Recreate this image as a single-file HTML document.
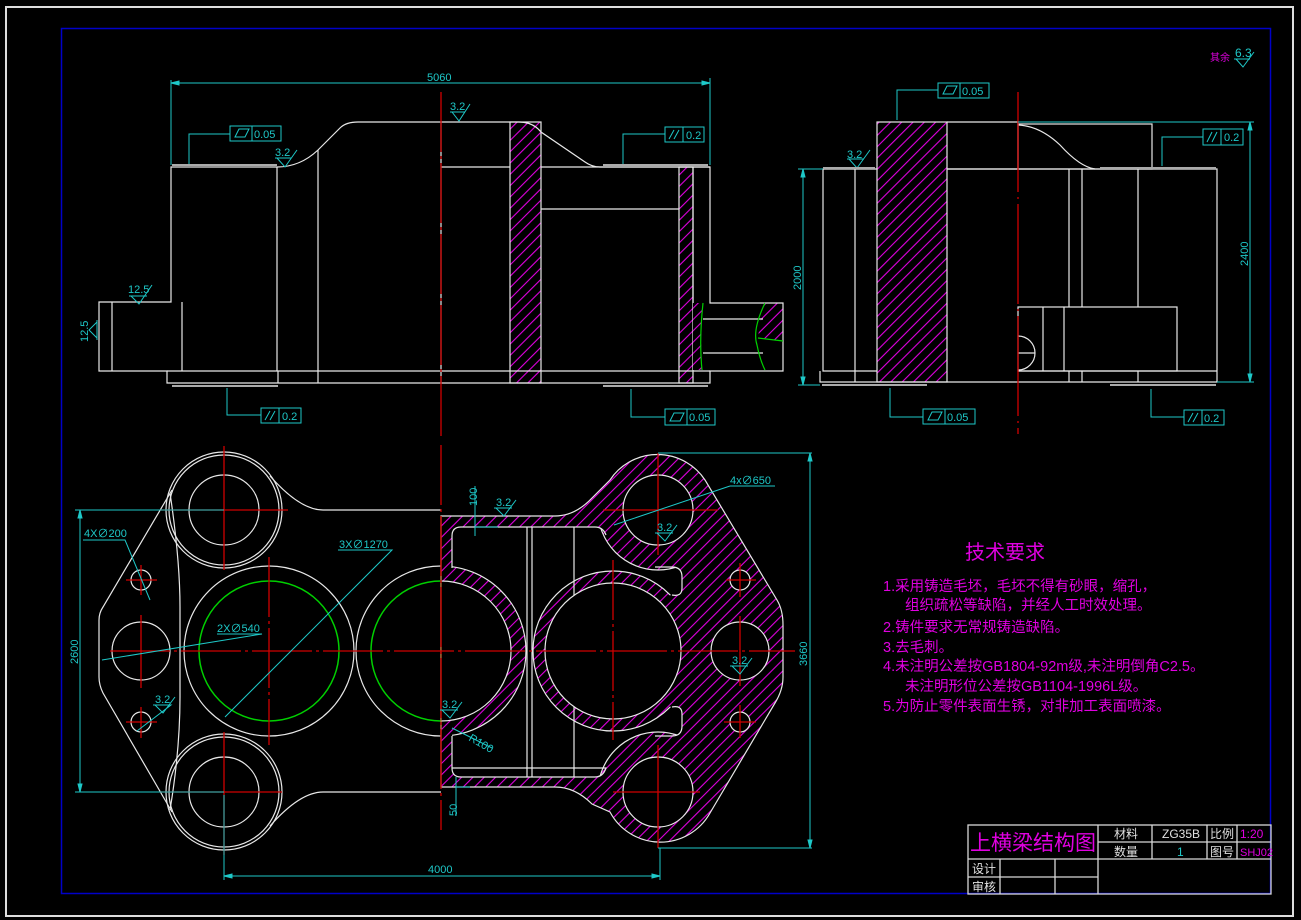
<!DOCTYPE html>
<html><head><meta charset="utf-8"><style>
html,body{margin:0;padding:0;background:#000;}
svg{display:block;}
text{font-family:"Liberation Sans","Noto Sans CJK SC",sans-serif;}
</style></head><body>
<svg width="1301" height="920" viewBox="0 0 1301 920" xmlns="http://www.w3.org/2000/svg">
<defs>
<pattern id="h" patternUnits="userSpaceOnUse" width="8" height="8" patternTransform="rotate(-45)">
<rect width="8" height="8" fill="#000"/><line x1="0" y1="4" x2="8" y2="4" stroke="#e000e0" stroke-width="1.1"/>
</pattern>
<clipPath id="rh"><rect x="441" y="400" width="400" height="500"/></clipPath>
<clipPath id="lh"><rect x="60" y="400" width="381" height="500"/></clipPath>
<clipPath id="cav"><path d="M452,536 Q452,527 461,527 H595 Q603,527 606,535 Q620,565 655,567 H672 Q682,567 682,577 V588 Q682,597 672,595 L640,600 L640,702 L672,707 Q682,705 682,714 V726 Q682,736 672,736 H655 Q620,738 606,768 Q603,777 595,777 H461 Q452,777 452,768 Z"/></clipPath>
<mask id="cm"><rect x="0" y="0" width="1301" height="920" fill="#000"/>
<path d="M452,536 Q452,527 461,527 H595 Q603,527 606,535 Q620,565 655,567 H672 Q682,567 682,577 V588 Q682,597 672,595 L640,600 L640,702 L672,707 Q682,705 682,714 V726 Q682,736 672,736 H655 Q620,738 606,768 Q603,777 595,777 H461 Q452,777 452,768 Z" fill="#fff"/>
<circle cx="658" cy="510" r="60" fill="#000"/><circle cx="658" cy="792" r="60" fill="#000"/>
<circle cx="613" cy="651" r="80" fill="#000"/><circle cx="441" cy="651" r="85" fill="#000"/>
</mask>
</defs>

<!-- frames -->
<rect x="6" y="7" width="1287" height="909" fill="none" stroke="#ddd" stroke-width="2"/>
<rect x="61.5" y="28.5" width="1209" height="865" fill="none" stroke="#0000c8" stroke-width="1.5"/>

<!-- ================= FRONT VIEW ================= -->
<g fill="none" stroke="#e8e8e8" stroke-width="1.2">
<rect x="510" y="122" width="31" height="261" fill="url(#h)"/>
<rect x="679" y="167" width="14" height="216" fill="url(#h)"/>
<path d="M693,303 H703 Q700,340 702,370 H693 Z" fill="url(#h)" stroke="none"/>
<path d="M765,303 H783 V341 L758,338 Q760,320 765,303 Z" fill="url(#h)" stroke="none"/>
<path d="M171,167 H277 Q300,167 318,150 L340,128 Q346,122 358,122 H519 Q533,122 541,132 L585,162 Q592,167 600,167 H710 V303 H783 V371 H710 V383 H167 V371 H99 V302 H171 Z"/>
<line x1="277" y1="167" x2="277" y2="371"/>
<line x1="318" y1="150" x2="318" y2="383"/>
<line x1="441" y1="122" x2="441" y2="383"/>
<line x1="441" y1="167" x2="510" y2="167"/>
<line x1="541" y1="167" x2="710" y2="167"/>
<line x1="541" y1="209" x2="679" y2="209"/>
<line x1="693" y1="167" x2="693" y2="303"/>
<line x1="167" y1="371" x2="710" y2="371"/>
<line x1="112" y1="302" x2="112" y2="371"/>
<line x1="182" y1="302" x2="182" y2="371"/>
<line x1="703" y1="319" x2="763" y2="319"/>
<line x1="703" y1="353" x2="763" y2="353"/>
<line x1="278" y1="371" x2="278" y2="383"/>
<line x1="172" y1="386" x2="278" y2="386" stroke="#aaa" stroke-width="2"/>
<line x1="603" y1="386" x2="708" y2="386" stroke="#aaa" stroke-width="2"/>
<line x1="172" y1="165" x2="277" y2="165" stroke="#aaa" stroke-width="2"/>
<line x1="603" y1="165" x2="708" y2="165" stroke="#aaa" stroke-width="2"/>
</g>
<path d="M703,303 Q699,340 702,370 M765,303 Q752,330 757,345 Q760,360 765,370 M758,338 L783,341" fill="none" stroke="#00d000" stroke-width="1.2"/>
<line x1="441" y1="92" x2="441" y2="440" stroke="#d00000" stroke-width="1.3" stroke-dasharray="60,4,3,4"/>

<!-- front view annotations -->
<g stroke="#1ec8c8" fill="none" stroke-width="1">
<line x1="171" y1="83" x2="710" y2="83"/>
<line x1="171" y1="80" x2="171" y2="165"/><line x1="710" y1="78" x2="710" y2="165"/>
<path d="M171,83 l8,-2 v4 z M710,83 l-8,-2 v4 z" fill="#1ec8c8"/>
<rect x="230" y="126" width="51" height="15"/><line x1="252" y1="126" x2="252" y2="141"/>
<path d="M235,137 l4,-8 h10 l-4,8 z"/>
<path d="M230,134 H189 V164"/>
<rect x="665" y="127" width="39" height="15"/><line x1="683" y1="127" x2="683" y2="142"/>
<path d="M669,139 l5,-9 M674,139 l5,-9"/>
<path d="M665,134 H623 V164"/>
<rect x="261" y="408" width="40" height="15"/><line x1="279" y1="408" x2="279" y2="423"/>
<path d="M265,420 l5,-9 M270,420 l5,-9"/>
<path d="M227,388 V415 H261"/>
<rect x="665" y="409" width="50" height="16"/><line x1="687" y1="409" x2="687" y2="425"/>
<path d="M670,421 l4,-8 h10 l-4,8 z"/>
<path d="M631,389 V417 H665"/>
<!-- roughness -->
<path d="M452,112 L459,121 L470,104 M450,112 H465"/>
<path d="M277,158 L285,167 L297,150 M275,158 H291"/>
<path d="M131,296 L139,304 L152,285 M129,296 H147"/>
<path d="M97,322 L89,330 L97,338 M97,320 V340"/>
<path d="M849,159 L857,168 L870,150 M847,159 H864"/>
</g>
<g fill="#1ec8c8" font-size="11">
<text x="427" y="81">5060</text>
<text x="450" y="110">3.2</text>
<text x="275" y="156">3.2</text>
<text x="128" y="293">12.5</text>
<text transform="translate(88,342) rotate(-90)">12.5</text>
<text x="254" y="138" font-size="11">0.05</text>
<text x="686" y="139">0.2</text>
<text x="282" y="420">0.2</text>
<text x="689" y="421">0.05</text>
<text x="847" y="158">3.2</text>
</g>

<!-- ================= SIDE VIEW ================= -->
<g fill="none" stroke="#e8e8e8" stroke-width="1.2">
<rect x="877" y="122" width="70" height="260" fill="url(#h)"/>
<path d="M947,122 H1018 V169 H947"/>
<rect x="1018" y="124" width="134" height="45"/>
<path d="M1018,125 Q1040,126 1060,145 Q1080,167 1095,169" />
<path d="M947,169 H1217 V382 H947"/>
<line x1="1069" y1="169" x2="1069" y2="307"/><line x1="1082" y1="169" x2="1082" y2="307"/><line x1="1138" y1="169" x2="1138" y2="307"/>
<rect x="1018" y="307" width="159" height="64"/>
<line x1="1043" y1="307" x2="1043" y2="371"/><line x1="1064" y1="307" x2="1064" y2="371"/>
<line x1="1018" y1="371" x2="1217" y2="371"/>
<line x1="1069" y1="371" x2="1069" y2="382"/><line x1="1082" y1="371" x2="1082" y2="382"/><line x1="1138" y1="371" x2="1138" y2="382"/>
<path d="M1018,336 A17,17 0 0 1 1018,370 M1018,353 H1035"/>
<path d="M877,169 H823 V371 H877 M855,169 V382 M820,371 V382 H947"/>
<line x1="822" y1="385" x2="927" y2="385" stroke="#aaa" stroke-width="2"/>
<line x1="1110" y1="385" x2="1216" y2="385" stroke="#aaa" stroke-width="2"/>
<line x1="823" y1="168" x2="875" y2="168" stroke="#aaa" stroke-width="2"/>
<line x1="1100" y1="168" x2="1216" y2="168" stroke="#aaa" stroke-width="2"/>
</g>
<line x1="1018" y1="92" x2="1018" y2="434" stroke="#d00000" stroke-width="1.3" stroke-dasharray="100,5,2,5"/>
<g stroke="#1ec8c8" fill="none" stroke-width="1">
<path d="M803,169 V385 M798,169 H823 M798,385 H820"/>
<path d="M803,169 l-2,8 h4 z M803,385 l-2,-8 h4 z" fill="#1ec8c8"/>
<path d="M1250,122 V382 M1018,122 H1254 M1217,382 H1254"/>
<path d="M1250,122 l-2,8 h4 z M1250,382 l-2,-8 h4 z" fill="#1ec8c8"/>
<rect x="938" y="83" width="51" height="15"/><line x1="960" y1="83" x2="960" y2="98"/>
<path d="M943,94 l4,-8 h10 l-4,8 z"/><path d="M938,90 H897 V120"/>
<rect x="1203" y="129" width="40" height="16"/><line x1="1221" y1="129" x2="1221" y2="145"/>
<path d="M1207,142 l5,-10 M1212,142 l5,-10"/><path d="M1203,137 H1162 V166"/>
<rect x="923" y="409" width="52" height="15"/><line x1="945" y1="409" x2="945" y2="424"/>
<path d="M928,420 l4,-8 h10 l-4,8 z"/><path d="M890,388 V417 H923"/>
<rect x="1184" y="410" width="40" height="15"/><line x1="1202" y1="410" x2="1202" y2="425"/>
<path d="M1188,422 l5,-9 M1193,422 l5,-9"/><path d="M1151,389 V417 H1184"/>
</g>
<g fill="#1ec8c8" font-size="11">
<text transform="translate(801,290) rotate(-90)">2000</text>
<text transform="translate(1248,266) rotate(-90)">2400</text>
<text x="962" y="95">0.05</text>
<text x="1224" y="141">0.2</text>
<text x="947" y="421">0.05</text>
<text x="1204" y="422">0.2</text>
</g>

<!-- ================= PLAN VIEW LEFT HALF ================= -->
<g fill="none" stroke="#e8e8e8" stroke-width="1.2">
<circle cx="224" cy="510" r="55"/><circle cx="224" cy="510" r="58"/><circle cx="224" cy="510" r="35"/>
<circle cx="224" cy="792" r="55"/><circle cx="224" cy="792" r="58"/><circle cx="224" cy="792" r="35"/>
<path d="M270,476 Q300,510 323,510 H441"/>
<path d="M270,826 Q300,792 323,792 H441"/>
<path d="M172,490 L103,607 Q99,613 99,620 V677 Q99,685 103,693 L172,812"/>
<path d="M170,493 Q180,560 180,607 V697 Q180,750 170,810"/>
<circle cx="269" cy="651" r="85"/>
<circle cx="141" cy="580" r="10"/><circle cx="141" cy="722" r="10"/><circle cx="141" cy="651" r="29"/>
<circle cx="441" cy="651" r="85" clip-path="url(#lh)"/>
</g>
<circle cx="269" cy="651" r="70" fill="none" stroke="#00d000" stroke-width="1.5"/>
<circle cx="441" cy="651" r="70" fill="none" stroke="#00d000" stroke-width="1.5" clip-path="url(#lh)"/>

<!-- ================= PLAN VIEW RIGHT HALF (section) ================= -->
<path d="M441,516 H555 Q575,516 592,498 L610,480 A57,57 0 0 1 705,480 L777,600 Q783,610 783,625 V677 Q783,690 775,703 L710,813 A57,57 0 0 1 610,812 L592,804 Q575,787 555,787 H441 Z" fill="url(#h)" stroke="#e8e8e8" stroke-width="1.2"/>
<rect x="0" y="0" width="1301" height="920" fill="#000" mask="url(#cm)"/>
<g fill="none" stroke="#e8e8e8" stroke-width="1.2">
<g clip-path="url(#cav)">
<circle cx="658" cy="510" r="60"/><circle cx="658" cy="792" r="60"/>
<circle cx="613" cy="651" r="80"/><circle cx="441" cy="651" r="85"/>
</g>
<path d="M452,536 Q452,527 461,527 H595 Q603,527 606,535 M606,768 Q603,777 595,777 H461 Q452,777 452,768 Z M452,536 V568 M452,736 V768 M655,567 H672 Q682,567 682,577 V588 Q682,597 672,595 M672,707 Q682,705 682,714 V726 Q682,736 672,736 H655" />
<line x1="527" y1="527" x2="527" y2="777"/><line x1="532" y1="527" x2="532" y2="777"/><line x1="574" y1="527" x2="574" y2="777"/>
</g>
<circle cx="613" cy="651" r="80" fill="url(#h)" stroke="none" clip-path="url(#cav)" opacity="0"/>
<g fill="#000" stroke="#e8e8e8" stroke-width="1.2">
<circle cx="613" cy="651" r="68"/>
<circle cx="441" cy="651" r="70" clip-path="url(#rh)"/>
<circle cx="658" cy="510" r="35"/><circle cx="658" cy="792" r="35"/>
<circle cx="740" cy="580" r="10"/><circle cx="740" cy="722" r="10"/><circle cx="740" cy="651" r="29"/>
</g>
<line x1="527" y1="568" x2="527" y2="735" stroke="#000" stroke-width="0"/>
<line x1="441" y1="516" x2="441" y2="787" stroke="#c87030" stroke-width="1.2"/>

<!-- centerlines plan -->
<g stroke="#d00000" stroke-width="1.3" fill="none">
<line x1="110" y1="651" x2="795" y2="651" stroke-dasharray="60,4,3,4"/>
<line x1="441" y1="445" x2="441" y2="830" stroke-dasharray="60,4,3,4"/>
<line x1="224" y1="446" x2="224" y2="570"/><line x1="160" y1="510" x2="288" y2="510"/>
<line x1="224" y1="732" x2="224" y2="855"/><line x1="160" y1="792" x2="282" y2="792"/>
<line x1="269" y1="557" x2="269" y2="745" stroke-dasharray="60,4,3,4"/>
<line x1="141" y1="565" x2="141" y2="595"/><line x1="126" y1="580" x2="157" y2="580"/>
<line x1="141" y1="707" x2="141" y2="738"/><line x1="126" y1="722" x2="157" y2="722"/>
<line x1="141" y1="615" x2="141" y2="688"/>
<line x1="658" y1="453" x2="658" y2="555"/><line x1="603" y1="510" x2="718" y2="510"/>
<line x1="658" y1="745" x2="658" y2="848"/><line x1="613" y1="792" x2="700" y2="792"/>
<line x1="613" y1="560" x2="613" y2="740" stroke-dasharray="60,4,3,4"/>
<line x1="740" y1="563" x2="740" y2="597"/><line x1="726" y1="580" x2="756" y2="580"/>
<line x1="740" y1="705" x2="740" y2="738"/><line x1="724" y1="722" x2="756" y2="722"/>
<line x1="740" y1="616" x2="740" y2="686"/>
</g>

<!-- plan annotations -->
<g stroke="#1ec8c8" fill="none" stroke-width="1">
<path d="M80,510 V792 M75,510 H224 M75,792 H224"/>
<path d="M80,510 l-2,8 h4 z M80,792 l-2,-8 h4 z" fill="#1ec8c8"/>
<path d="M224,795 V880 M660,848 V880 M224,876 H660"/>
<path d="M224,876 l8,-2 v4 z M660,876 l-8,-2 v4 z" fill="#1ec8c8"/>
<path d="M658,453 H812 M658,848 H812 M810,453 V848"/>
<path d="M810,453 l-2,8 h4 z M810,848 l-2,-8 h4 z" fill="#1ec8c8"/>
<path d="M83,540 H125 L150,600"/>
<path d="M338,550 H392 L225,717"/>
<path d="M217,634 H262 L102,660"/>
<path d="M730,486 H775 M730,486 L614,525"/>
<path d="M475,486 V536 M475,527 H498"/>
<path d="M456,777 V816 M456,787 H470"/>
<path d="M452,728 L492,748"/>
<path d="M496,508 L504,516 L516,500 M494,508 H512"/>
<path d="M657,533 L665,541 L677,525 M655,533 H673"/>
<path d="M732,666 L740,674 L752,658 M730,666 H748"/>
<path d="M442,710 L450,718 L462,702 M440,710 H458"/>
<path d="M155,705 L163,713 L175,697 M153,705 H171 L137,731"/>
<path d="M1236,59 L1243,67 L1254,52 M1234,59 H1250"/>
</g>
<g fill="#1ec8c8" font-size="11">
<text transform="translate(78,664) rotate(-90)">2600</text>
<text x="428" y="873">4000</text>
<text transform="translate(807,666) rotate(-90)">3660</text>
<text x="84" y="537">4X∅200</text>
<text x="339" y="548">3X∅1270</text>
<text x="217" y="632">2X∅540</text>
<text x="730" y="484">4x∅650</text>
<text transform="translate(477,506) rotate(-90)">100</text>
<text transform="translate(457,816) rotate(-90)">50</text>
<text transform="translate(468,740) rotate(30)">R100</text>
<text x="496" y="506">3.2</text>
<text x="657" y="531">3.2</text>
<text x="732" y="664">3.2</text>
<text x="442" y="708">3.2</text>
<text x="155" y="703">3.2</text>
<text x="1235" y="57" font-size="12">6.3</text>
</g>
<text x="1210" y="61" fill="#e000e0" font-size="10">其余</text>

<!-- technical requirements -->
<g fill="#e000e0">
<text x="965" y="559" font-size="20">技术要求</text>
<g font-size="14.5">
<text x="883" y="591">1.采用铸造毛坯，毛坯不得有砂眼，缩孔，</text>
<text x="905" y="610">组织疏松等缺陷，并经人工时效处理。</text>
<text x="883" y="632">2.铸件要求无常规铸造缺陷。</text>
<text x="883" y="652">3.去毛刺。</text>
<text x="883" y="671">4.未注明公差按GB1804-92m级,未注明倒角C2.5。</text>
<text x="905" y="691">未注明形位公差按GB1104-1996L级。</text>
<text x="883" y="711">5.为防止零件表面生锈，对非加工表面喷漆。</text>
</g>
</g>

<!-- title block -->
<g fill="none" stroke="#d8d8d8" stroke-width="1.3">
<rect x="968" y="825" width="303" height="69"/>
<line x1="968" y1="859" x2="1271" y2="859"/>
<line x1="968" y1="877" x2="1098" y2="877"/>
<line x1="1098" y1="825" x2="1098" y2="894"/>
<line x1="1000" y1="859" x2="1000" y2="894"/><line x1="1055" y1="859" x2="1055" y2="894"/>
<line x1="1098" y1="842" x2="1271" y2="842"/>
<line x1="1152" y1="825" x2="1152" y2="859"/><line x1="1207" y1="825" x2="1207" y2="859"/><line x1="1237" y1="825" x2="1237" y2="859"/>
</g>
<g font-size="12" fill="#e0e0e0">
<text x="970" y="850" font-size="21" fill="#e000e0">上横梁结构图</text>
<text x="1114" y="838">材料</text>
<text x="1162" y="838">ZG35B</text>
<text x="1210" y="838">比例</text>
<text x="1240" y="838" fill="#e000e0">1:20</text>
<text x="1114" y="856">数量</text>
<text x="1177" y="856" fill="#1ec8c8">1</text>
<text x="1210" y="856">图号</text>
<text x="1240" y="856" fill="#e000e0" font-size="11">SHJ02</text>
<text x="972" y="873">设计</text>
<text x="972" y="891">审核</text>
</g>
</svg>
</body></html>
